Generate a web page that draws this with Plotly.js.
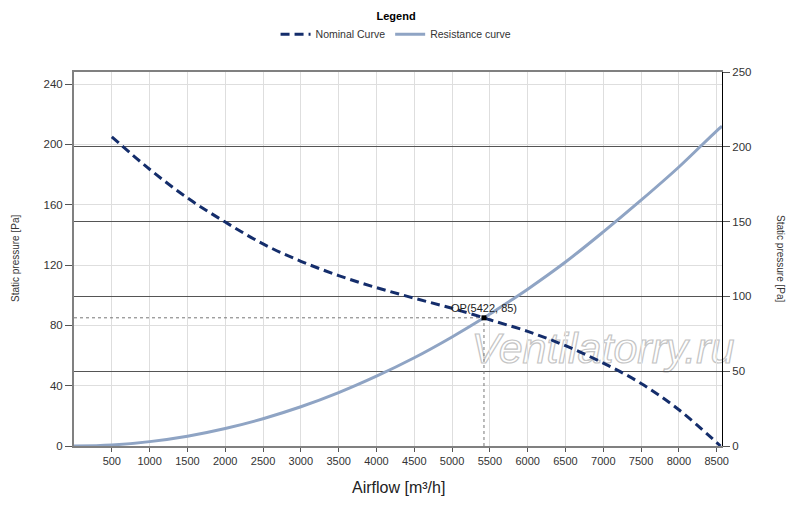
<!DOCTYPE html>
<html>
<head>
<meta charset="utf-8">
<script src="https://cdn.plot.ly/plotly-3.0.1.min.js"></script>
<style>
  html, body { margin: 0; padding: 0; background: #fff; }
  #wrap { position: relative; width: 800px; height: 507px; }
  #graphDiv { position: absolute; left: 0; top: 0; width: 800px; height: 507px; }
  /* watermark sits behind the transparent plot so the curves run over it */
  #mark {
    position: absolute; left: 603px; top: 348px;
    transform: translate(-50%, -50%);
    font-family: "Liberation Sans", Arial, sans-serif;
    font-size: 43px; font-style: italic; white-space: nowrap;
    color: #fff; -webkit-text-stroke: 1.2px #c4c4c4;
  }
</style>
</head>
<body>
<div id="wrap">
  <div id="mark">Ventilatorry.ru</div>
  <div id="graphDiv"></div>
</div>
<script>
// Nominal fan curve
var nominalFlow = [500, 1000, 1500, 2000, 2500, 3000, 3500, 4000, 4500, 5000, 5422, 5500, 6000, 6500, 7000, 7500, 8000, 8550];
var nominalPressure = [205, 183.5, 164.5, 148.5, 134, 122.5, 113, 105, 98, 91.3, 85, 83.7, 76, 66.5, 55, 41.5, 24, 0];

// System resistance curve
var resistanceFlow = [0, 500, 1000, 1500, 2000, 2500, 3000, 3500, 4000, 4500, 5000, 5422, 5500, 6000, 6500, 7000, 7500, 8000, 8500, 8570];
var resistancePressure = [0, 0.7, 2.9, 6.5, 11.6, 18.1, 26, 35.4, 46.3, 58.5, 72.3, 85, 87.5, 104, 122, 142, 163, 185, 209, 212];

// Operating point
var opFlow = 5422;
var opPressure = 85;

var xTicks = [500, 1000, 1500, 2000, 2500, 3000, 3500, 4000, 4500, 5000, 5500, 6000, 6500, 7000, 7500, 8000, 8500];

var fontFam = "Liberation Sans, Arial, sans-serif";

var nominal = {
    type: 'scatter',
    mode: 'lines',
    name: 'Nominal Curve',
    legendrank: 1,
    x: nominalFlow,
    y: nominalPressure,
    line: { color: '#142d6b', width: 3, dash: '9px,5px', shape: 'spline', smoothing: 1 }
};
var resistance = {
    type: 'scatter',
    mode: 'lines',
    name: 'Resistance curve',
    legendrank: 2,
    x: resistanceFlow,
    y: resistancePressure,
    line: { color: '#8fa4c4', width: 3, shape: 'spline', smoothing: 1 }
};
// dotted guides from the operating point to the axes
var opGuideH = {
    type: 'scatter', mode: 'lines', showlegend: false,
    x: [0, opFlow], y: [opPressure, opPressure],
    line: { color: '#777', width: 1, dash: 'dot' }
};
var opGuideV = {
    type: 'scatter', mode: 'lines', showlegend: false,
    x: [opFlow, opFlow], y: [0, opPressure],
    line: { color: '#777', width: 1, dash: 'dot' }
};
var opPoint = {
    type: 'scatter', mode: 'markers', showlegend: false,
    x: [opFlow], y: [opPressure],
    marker: { color: '#000', size: 5, symbol: 'square' }
};
// same point on the right axis, so that axis gets drawn
var opPointRight = {
    type: 'scatter', mode: 'markers', showlegend: false, yaxis: 'y2',
    x: [opFlow], y: [opPressure],
    marker: { color: '#000', size: 5, symbol: 'square', opacity: 0 }
};

var data = [opGuideH, opGuideV, resistance, nominal, opPoint, opPointRight];

var layout = {
    width: 800,
    height: 507,
    margin: { l: 74, r: 78, t: 72, b: 61, pad: 0, autoexpand: false },
    paper_bgcolor: 'rgba(0,0,0,0)',
    plot_bgcolor: 'rgba(0,0,0,0)',
    font: { family: fontFam, size: 11, color: '#333' },
    showlegend: true,
    legend: {
        orientation: 'h',
        x: 0.497, xanchor: 'center',
        y: 1.178, yanchor: 'top',
        font: { family: fontFam, size: 10.5, color: '#333' },
        title: { text: '<b>Legend</b>', side: 'top center', font: { family: fontFam, size: 11, color: '#000' } },
        itemwidth: 30,
        tracegroupgap: 0
    },
    xaxis: {
        range: [0, 8570],
        tickmode: 'array',
        tickvals: xTicks,
        showgrid: true,
        gridcolor: '#dedede',
        zeroline: false,
        showline: true,
        linecolor: '#808080',
        linewidth: 2,
        mirror: true,
        ticks: 'outside',
        ticklen: 4,
        tickcolor: '#555',
        tickfont: { family: fontFam, size: 11, color: '#333' }
    },
    yaxis: {
        range: [0, 248],
        tickmode: 'linear',
        tick0: 0,
        dtick: 40,
        showgrid: true,
        gridcolor: '#dedede',
        zeroline: false,
        showline: true,
        linecolor: '#808080',
        linewidth: 2,
        ticks: 'outside',
        ticklen: 7,
        tickcolor: '#555',
        tickfont: { family: fontFam, size: 11.5, color: '#333' }
    },
    yaxis2: {
        overlaying: 'y',
        side: 'right',
        range: [0, 250],
        tickmode: 'linear',
        tick0: 0,
        dtick: 50,
        showgrid: true,
        gridcolor: '#555',
        gridwidth: 1.2,
        zeroline: false,
        showline: true,
        linecolor: '#000',
        linewidth: 1,
        ticks: 'outside',
        ticklen: 7,
        tickcolor: '#555',
        tickfont: { family: fontFam, size: 11.5, color: '#333' }
    },
    annotations: [
        {
            xref: 'paper', yref: 'paper', x: 0.5, y: -0.11,
            text: 'Airflow [m³/h]', showarrow: false,
            xanchor: 'center', yanchor: 'middle',
            font: { family: fontFam, size: 16, color: '#222' }
        },
        {
            xref: 'paper', yref: 'paper', x: -0.091, y: 0.5,
            text: 'Static pressure [Pa]', showarrow: false, textangle: -90,
            xanchor: 'center', yanchor: 'middle',
            font: { family: fontFam, size: 10, color: '#333' }
        },
        {
            xref: 'paper', yref: 'paper', x: 1.091, y: 0.5,
            text: 'Static pressure [Pa]', showarrow: false, textangle: 90,
            xanchor: 'center', yanchor: 'middle',
            font: { family: fontFam, size: 10, color: '#333' }
        },
        {
            xref: 'x', yref: 'y', x: opFlow, y: opPressure,
            text: 'OP(' + opFlow + ', ' + opPressure + ')', showarrow: false,
            xanchor: 'center', yanchor: 'bottom', yshift: 2,
            font: { family: fontFam, size: 11, color: '#222' }
        }
    ]
};

Plotly.newPlot('graphDiv', data, layout, { displayModeBar: false, staticPlot: true });
</script>
</body>
</html>
